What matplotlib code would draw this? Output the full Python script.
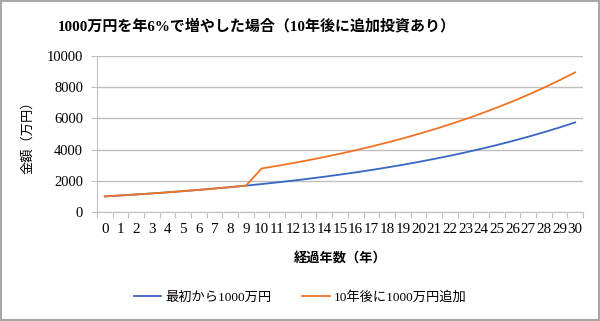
import matplotlib
matplotlib.use("Agg")
import matplotlib.pyplot as plt
import matplotlib.patches as mpatches
import numpy as np

plt.rcParams["font.family"] = ["Liberation Serif", "Noto Sans CJK JP"]

# ---------------------------------------------------------------------------
# Data (万円)
# ---------------------------------------------------------------------------
years = list(range(31))
from_start = [1000, 1060, 1124, 1191, 1262, 1338, 1419, 1504, 1594, 1689,
              1791, 1898, 2012, 2133, 2261, 2397, 2540, 2693, 2854, 3026,
              3207, 3400, 3604, 3820, 4049, 4292, 4549, 4822, 5112, 5418, 5743]
add_after_10 = [1000, 1060, 1124, 1191, 1262, 1338, 1419, 1504, 1594, 1689,
                2791, 2958, 3136, 3324, 3523, 3735, 3959, 4197, 4448, 4715,
                4998, 5298, 5616, 5953, 6310, 6689, 7089, 7515, 7966, 8444, 8950]
labels = ["最初から1000万円", "10年後に1000万円追加"]

BLUE = "#3A66C4"
ORANGE = "#F07424"
GRID = "#C0C0C0"

fig = plt.figure(figsize=(6.0, 3.21), dpi=100)
ax = fig.add_axes([97 / 600, 1 - 212 / 321, 486 / 600, 156 / 321])

ax.plot(years, from_start, color=BLUE, linewidth=1.3, label=labels[0])
ax.plot(years, add_after_10, color=ORANGE, linewidth=1.3, label=labels[1])

ax.set_xlim(-0.5, len(years) - 0.5)
ax.set_ylim(0, 10000)
ax.set_yticks(np.arange(0, 10001, 2000))
ax.yaxis.grid(True, color=GRID, linewidth=1.0)
ax.set_axisbelow(True)

# category axis: ticks between categories, labels at centres
ax.set_xticks(np.arange(-0.5, len(years), 1.0))
ax.set_xticklabels([])
ax.set_xticks(years, minor=True)
ax.set_xticklabels([str(y) for y in years], minor=True, fontsize=10.8)
ax.tick_params(axis="x", which="major", direction="out", length=4, color=GRID)
ax.tick_params(axis="x", which="minor", length=0, pad=8)
ax.tick_params(axis="y", direction="out", length=4, color=GRID, labelsize=10.5, pad=6)

for side in ("top", "right"):
    ax.spines[side].set_visible(False)
for side in ("left", "bottom"):
    ax.spines[side].set_color(GRID)

ax.set_ylabel("金額（万円）", fontsize=9.5, labelpad=9)
ax.set_xlabel("経過年数（年）", fontsize=9.5, fontweight="bold", labelpad=11)

fig.text(257 / 600, 1 - 26 / 321, "1000万円を年6%で増やした場合（10年後に追加投資あり）",
         ha="center", va="center", fontsize=10.8, fontweight="bold")

fig.legend(loc="center", bbox_to_anchor=(0.5, 1 - 297 / 321), ncol=2,
           frameon=False, fontsize=9.5, handlelength=2.1, columnspacing=2.3,
           handletextpad=0.3)

fig.patches.append(mpatches.Rectangle((0.002, 0.003), 0.996, 0.994,
                                      transform=fig.transFigure, fill=False,
                                      edgecolor="#A8A8A8", linewidth=1.5))

fig.savefig("out.png", dpi=100, facecolor="white")
